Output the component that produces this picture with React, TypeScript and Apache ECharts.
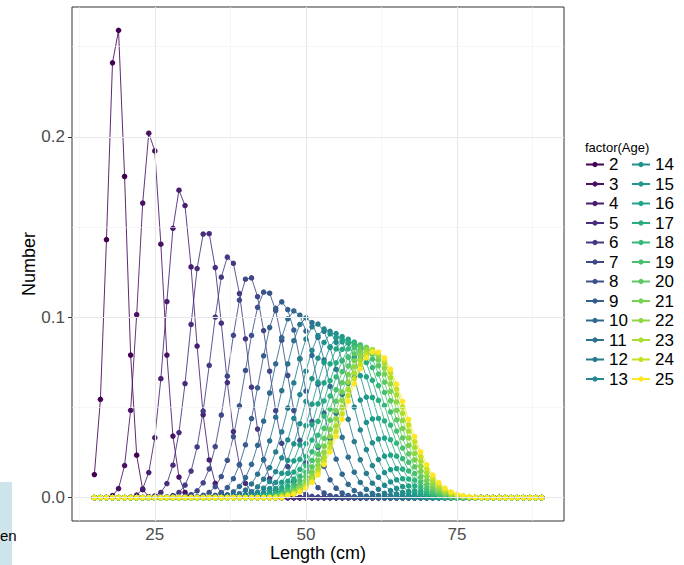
import React, { useEffect, useRef } from "react";
import * as echarts from "echarts";

// Length classes (cm)
const lengths = [
  15, 16, 17, 18, 19, 20, 21, 22, 23, 24, 25, 26, 27, 28, 29, 30, 31, 32, 33, 34,
  35, 36, 37, 38, 39, 40, 41, 42, 43, 44, 45, 46, 47, 48, 49, 50, 51, 52, 53, 54,
  55, 56, 57, 58, 59, 60, 61, 62, 63, 64, 65, 66, 67, 68, 69, 70, 71, 72, 73, 74,
  75, 76, 77, 78, 79, 80, 81, 82, 83, 84, 85, 86, 87, 88, 89,
];

const ages = [
  "2", "3", "4", "5", "6", "7", "8", "9", "10", "11", "12", "13",
  "14", "15", "16", "17", "18", "19", "20", "21", "22", "23", "24", "25",
];

// first length class of each age's listed (non-zero) values; all other classes read as 0
const firstLength = [15, 17, 21, 25, 27, 30, 32, 34, 35, 37, 39, 40, 41, 42, 43, 43, 44, 44, 45, 45, 46, 46, 47, 47];

const age2 = [0.0128, 0.0545, 0.143, 0.241, 0.259, 0.178, 0.079, 0.0235, 0.0044, 0.0005];
const age3 = [0.0002, 0.0011, 0.005, 0.0178, 0.0484, 0.1014, 0.1633, 0.202, 0.1922, 0.1405, 0.079, 0.0341, 0.0114, 0.0029, 0.0006, 0.0001];
const age4 = [0.0003, 0.0014, 0.0049, 0.0139, 0.0332, 0.0659, 0.1087, 0.1493, 0.1704, 0.1619, 0.1279, 0.084, 0.0459, 0.0209, 0.0079, 0.0025, 0.0007];
const age5 = [0.001, 0.0029, 0.0078, 0.018, 0.0361, 0.0632, 0.096, 0.127, 0.1461, 0.1463, 0.1275, 0.0967, 0.0638, 0.0366, 0.0183, 0.0079, 0.003, 0.001, 0.0003];
const age6 = [0.0004, 0.0011, 0.0029, 0.0069, 0.0147, 0.0281, 0.048, 0.0733, 0.1001, 0.1222, 0.1333, 0.1299, 0.1131, 0.088, 0.0612, 0.038, 0.0211, 0.0105, 0.0046, 0.0018, 0.0007, 0.0002];
const age7 = [0.0006, 0.0016, 0.0038, 0.0082, 0.0159, 0.0283, 0.0458, 0.0673, 0.09, 0.1095, 0.1211, 0.1218, 0.1114, 0.0926, 0.0701, 0.0482, 0.0301, 0.0172, 0.0089, 0.0042, 0.0018, 0.0007, 0.0003];
const age8 = [0.0005, 0.0013, 0.0029, 0.0061, 0.0117, 0.0207, 0.0338, 0.0509, 0.0705, 0.0899, 0.1055, 0.1139, 0.1133, 0.1037, 0.0873, 0.0677, 0.0483, 0.0318, 0.0192, 0.0107, 0.0055, 0.0026, 0.0011, 0.0005, 0.0002];
const age9 = [0.0006, 0.0013, 0.0028, 0.0056, 0.0105, 0.0182, 0.0293, 0.0438, 0.0609, 0.0786, 0.0943, 0.1049, 0.1085, 0.1042, 0.0929, 0.0769, 0.0591, 0.0422, 0.028, 0.0173, 0.0099, 0.0052, 0.0026, 0.0012, 0.0005, 0.0002];
const age10 = [0.0003, 0.0007, 0.0016, 0.0032, 0.0062, 0.0111, 0.0185, 0.029, 0.0424, 0.058, 0.0742, 0.0887, 0.0991, 0.1035, 0.1011, 0.0923, 0.0788, 0.0629, 0.0469, 0.0327, 0.0213, 0.013, 0.0074, 0.0039, 0.002, 0.0009, 0.0004, 0.0002];
const age11 = [0.0005, 0.0011, 0.0022, 0.0042, 0.0076, 0.013, 0.0209, 0.0315, 0.0446, 0.0593, 0.0741, 0.087, 0.096, 0.0996, 0.097, 0.0888, 0.0763, 0.0617, 0.0468, 0.0334, 0.0224, 0.0141, 0.0084, 0.0046, 0.0024, 0.0012, 0.0006, 0.0002];
const age12 = [0.0008, 0.0017, 0.0033, 0.006, 0.0102, 0.0166, 0.0253, 0.0365, 0.0496, 0.0636, 0.077, 0.0879, 0.0947, 0.0962, 0.0922, 0.0833, 0.0711, 0.0572, 0.0434, 0.0311, 0.021, 0.0134, 0.008, 0.0046, 0.0024, 0.0012, 0.0006, 0.0003];
const age13 = [0.0008, 0.0015, 0.0029, 0.0052, 0.0089, 0.0144, 0.0221, 0.032, 0.0439, 0.0571, 0.0701, 0.0816, 0.0898, 0.0935, 0.0922, 0.086, 0.0759, 0.0634, 0.0502, 0.0375, 0.0266, 0.0178, 0.0113, 0.0068, 0.0039, 0.0021, 0.0011, 0.0005, 0.0002];
const age14 = [0.0008, 0.0015, 0.0028, 0.005, 0.0084, 0.0135, 0.0206, 0.0298, 0.041, 0.0533, 0.0659, 0.0773, 0.086, 0.0908, 0.0909, 0.0864, 0.0779, 0.0667, 0.0541, 0.0417, 0.0304, 0.0211, 0.0139, 0.0087, 0.0051, 0.0029, 0.0015, 0.0008, 0.0004];
const age15 = [0.0008, 0.0016, 0.0029, 0.0051, 0.0085, 0.0135, 0.0204, 0.0293, 0.0399, 0.0518, 0.0639, 0.0749, 0.0836, 0.0886, 0.0893, 0.0856, 0.078, 0.0676, 0.0557, 0.0436, 0.0325, 0.023, 0.0155, 0.0099, 0.0061, 0.0035, 0.0019, 0.001, 0.0005, 0.0002];
const age16 = [0.0009, 0.0018, 0.0032, 0.0056, 0.0091, 0.0142, 0.0212, 0.03, 0.0405, 0.052, 0.0636, 0.0742, 0.0824, 0.0871, 0.0878, 0.0842, 0.0769, 0.067, 0.0555, 0.0439, 0.033, 0.0236, 0.0161, 0.0105, 0.0065, 0.0038, 0.0022, 0.0012, 0.0006, 0.0003];
const age17 = [0.0006, 0.0012, 0.0022, 0.0038, 0.0064, 0.0102, 0.0157, 0.0229, 0.0319, 0.0423, 0.0536, 0.0648, 0.0747, 0.0822, 0.0862, 0.0862, 0.0823, 0.0749, 0.065, 0.0539, 0.0425, 0.0321, 0.023, 0.0158, 0.0103, 0.0065, 0.0038, 0.0022, 0.0012, 0.0006, 0.0003];
const age18 = [0.0008, 0.0015, 0.0027, 0.0046, 0.0076, 0.0119, 0.0178, 0.0254, 0.0346, 0.0452, 0.0563, 0.0669, 0.076, 0.0825, 0.0854, 0.0845, 0.0799, 0.0721, 0.0621, 0.0511, 0.0402, 0.0302, 0.0216, 0.0148, 0.0097, 0.0061, 0.0036, 0.0021, 0.0011, 0.0006, 0.0003];
const age19 = [0.0006, 0.0011, 0.002, 0.0035, 0.0058, 0.0092, 0.0141, 0.0206, 0.0287, 0.0384, 0.049, 0.0598, 0.0698, 0.0778, 0.083, 0.0846, 0.0825, 0.0768, 0.0685, 0.0583, 0.0475, 0.0369, 0.0275, 0.0196, 0.0133, 0.0087, 0.0054, 0.0032, 0.0018, 0.001, 0.0005, 0.0003];
const age20 = [0.0008, 0.0015, 0.0027, 0.0045, 0.0073, 0.0114, 0.017, 0.0241, 0.0329, 0.0429, 0.0535, 0.0638, 0.0729, 0.0797, 0.0833, 0.0833, 0.0798, 0.0731, 0.064, 0.0537, 0.0431, 0.0331, 0.0243, 0.0171, 0.0115, 0.0074, 0.0046, 0.0027, 0.0015, 0.0008, 0.0004];
const age21 = [0.0006, 0.0012, 0.0021, 0.0036, 0.006, 0.0094, 0.0142, 0.0206, 0.0285, 0.0379, 0.0481, 0.0585, 0.0682, 0.076, 0.0812, 0.0831, 0.0814, 0.0763, 0.0685, 0.0589, 0.0485, 0.0383, 0.0289, 0.0209, 0.0145, 0.0096, 0.0061, 0.0037, 0.0022, 0.0012, 0.0006, 0.0003];
const age22 = [0.001, 0.0017, 0.003, 0.005, 0.008, 0.0122, 0.0179, 0.0251, 0.0338, 0.0436, 0.0539, 0.0639, 0.0725, 0.0788, 0.0821, 0.082, 0.0784, 0.0718, 0.0631, 0.0531, 0.0428, 0.0331, 0.0245, 0.0174, 0.0118, 0.0077, 0.0048, 0.0029, 0.0016, 0.0009, 0.0005];
const age23 = [0.0008, 0.0014, 0.0025, 0.0042, 0.0068, 0.0106, 0.0157, 0.0223, 0.0304, 0.0398, 0.0499, 0.0599, 0.069, 0.0762, 0.0807, 0.0819, 0.0797, 0.0743, 0.0665, 0.057, 0.0468, 0.0369, 0.0279, 0.0202, 0.014, 0.0093, 0.006, 0.0036, 0.0021, 0.0012, 0.0007, 0.0003];
const age24 = [0.0012, 0.0022, 0.0037, 0.006, 0.0093, 0.014, 0.0201, 0.0277, 0.0366, 0.0464, 0.0565, 0.0659, 0.0737, 0.0791, 0.0814, 0.0804, 0.0761, 0.0691, 0.0602, 0.0503, 0.0403, 0.031, 0.0228, 0.0161, 0.0109, 0.0071, 0.0044, 0.0027, 0.0015, 0.0008, 0.0004];
const age25 = [0.0011, 0.0019, 0.0032, 0.0053, 0.0084, 0.0126, 0.0183, 0.0254, 0.034, 0.0435, 0.0535, 0.0631, 0.0714, 0.0775, 0.0807, 0.0807, 0.0774, 0.0712, 0.0629, 0.0533, 0.0433, 0.0338, 0.0253, 0.0182, 0.0125, 0.0083, 0.0053, 0.0032, 0.0019, 0.0011, 0.0006, 0.0003];

const ageValues = [age2, age3, age4, age5, age6, age7, age8, age9, age10, age11, age12, age13,
  age14, age15, age16, age17, age18, age19, age20, age21, age22, age23, age24, age25];

const xTicks = [25, 50, 75];
const xMinor = [12.5, 37.5, 62.5, 87.5];
const yTicks = [0, 0.1, 0.2];
const yMinor = [0.05, 0.15, 0.25];

const viridis = [
  "#440154", "#471164", "#481f70", "#472d7b", "#443a83", "#404688",
  "#3b528b", "#365d8d", "#31688e", "#2c728e", "#287c8e", "#24868e",
  "#21908c", "#1f9a8a", "#20a486", "#27ad81", "#35b779", "#47c16e",
  "#5dc863", "#75d054", "#8fd744", "#aadc32", "#c7e020", "#fde725",
];

const FONT = "'Liberation Sans', Arial, Helvetica, sans-serif";

export default function App() {
  const ref = useRef<HTMLDivElement>(null);

  useEffect(() => {
    document.body.style.margin = "0";
    const chart = echarts.init(ref.current!, null, { renderer: "svg" });

    const series: any[] = ages.map((age, k) => {
      const start = firstLength[k];
      const vals = ageValues[k];
      const data = lengths.map((L) => {
        const i = L - start;
        return [L, i >= 0 && i < vals.length ? vals[i] : 0];
      });
      return {
        name: age,
        type: "line",
        data,
        symbol: "circle",
        symbolSize: 5.5,
        showAllSymbol: true,
        itemStyle: { color: viridis[k] },
        lineStyle: { color: viridis[k], width: 0.85 },
        emphasis: { disabled: true },
        z: 3,
      };
    });

    const gridLines: any[] = [];
    xMinor.forEach((v) => gridLines.push({ xAxis: v, lineStyle: { color: "#f0f0f0", width: 0.6, type: "solid" } }));
    yMinor.forEach((v) => gridLines.push({ yAxis: v, lineStyle: { color: "#f0f0f0", width: 0.6, type: "solid" } }));
    xTicks.forEach((v) => gridLines.push({ xAxis: v, lineStyle: { color: "#e8e8e8", width: 1.1, type: "solid" } }));
    yTicks.forEach((v) => gridLines.push({ yAxis: v, lineStyle: { color: "#e8e8e8", width: 1.1, type: "solid" } }));

    series.unshift({
      name: "__grid",
      type: "line",
      data: [],
      silent: true,
      z: 1,
      markLine: {
        silent: true,
        symbol: "none",
        label: { show: false },
        emphasis: { disabled: true },
        data: gridLines,
      },
    });

    const legendCommon = {
      orient: "vertical",
      top: 156,
      itemWidth: 18,
      itemHeight: 6.5,
      itemGap: 2.5,
      padding: 0,
      selectedMode: false,
      textStyle: { fontSize: 17, color: "#000", lineHeight: 17, fontFamily: FONT },
    };

    chart.setOption({
      animation: false,
      textStyle: { fontFamily: FONT },
      grid: {
        left: 72,
        right: 120,
        top: 7,
        bottom: 44,
        show: true,
        borderColor: "#333333",
        borderWidth: 1,
        backgroundColor: "transparent",
        containLabel: false,
        outerBoundsMode: "none",
      },
      xAxis: {
        type: "value",
        min: 11.3,
        max: 92.7,
        axisLine: { show: false },
        splitLine: { show: false },
        axisTick: { show: true, length: 4, customValues: xTicks, lineStyle: { color: "#333333" } },
        axisLabel: { customValues: xTicks, fontSize: 17, lineHeight: 17, color: "#4d4d4d", margin: 5, fontFamily: FONT },
        name: "Length (cm)",
        nameLocation: "middle",
        nameGap: 23,
        nameMoveOverlap: false,
        nameTextStyle: { fontSize: 18, lineHeight: 18, color: "#000", fontFamily: FONT },
      },
      yAxis: {
        type: "value",
        min: -0.01295,
        max: 0.27195,
        axisLine: { show: false },
        splitLine: { show: false },
        axisTick: { show: true, length: 4, customValues: yTicks, lineStyle: { color: "#333333" } },
        axisLabel: {
          customValues: yTicks,
          fontSize: 17,
          color: "#4d4d4d",
          margin: 7,
          fontFamily: FONT,
          formatter: (v: number) => v.toFixed(1),
        },
        name: "Number",
        nameLocation: "middle",
        nameGap: 34,
        nameRotate: 90,
        nameMoveOverlap: false,
        nameTextStyle: { fontSize: 18, color: "#000", fontFamily: FONT },
      },
      legend: [
        { ...legendCommon, left: 585, data: ages.slice(0, 12) },
        { ...legendCommon, left: 631, data: ages.slice(12) },
      ],
      graphic: [
        {
          type: "text",
          left: 585,
          top: 141,
          style: { text: "factor(Age)", fontSize: 13, fill: "#000", fontFamily: FONT },
        },
        {
          type: "rect",
          shape: { x: 0, y: 482, width: 12, height: 83 },
          style: { fill: "#cde5ea" },
        },
        {
          type: "text",
          x: 0,
          y: 528,
          style: { text: "en", fontSize: 15, fill: "#000", fontFamily: FONT },
        },
      ],
      series,
    });

    return () => chart.dispose();
  }, []);

  return <div ref={ref} style={{ width: 684, height: 565 }} />;
}
